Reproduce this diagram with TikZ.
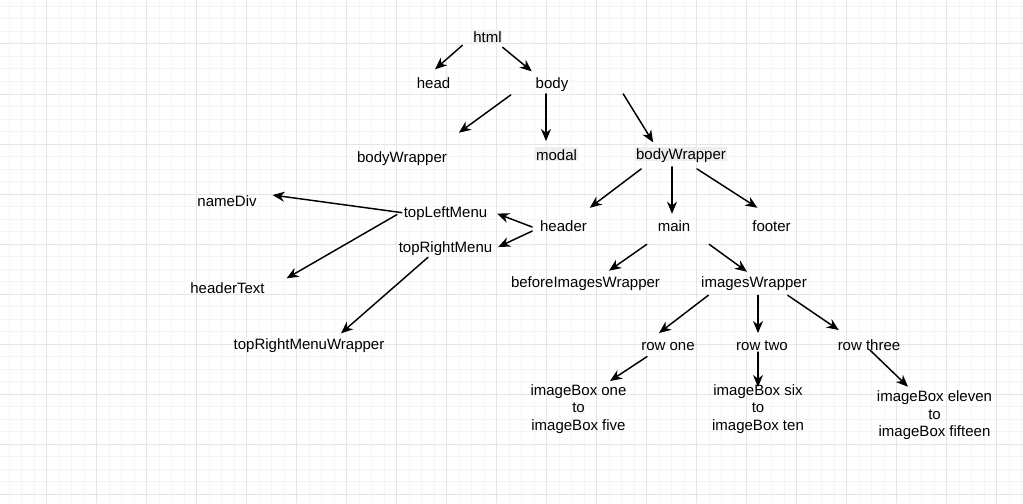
\documentclass[tikz,border=0pt]{standalone}
\usepackage{fontspec}
\setmainfont{Liberation Sans}
\usetikzlibrary{arrows.meta}
\definecolor{hlgray}{RGB}{238,238,238}
\definecolor{gridminor}{RGB}{245,245,245}
\definecolor{gridmajor}{RGB}{229,229,229}

\begin{document}
\begin{tikzpicture}[x=0.75pt,y=-0.75pt,>={Stealth[length=9pt,width=7.5pt,inset=2.8pt]},
  font=\fontsize{11.25}{13.125}\selectfont,line cap=round,
  lbl/.style={anchor=base,inner xsep=0.5pt,inner ysep=0pt,text height=0.95em,text depth=0.1em},
  hl/.style={lbl,fill=hlgray},
  multi/.style={align=center,inner sep=0pt},
  arr/.style={->,line width=1.1pt}]
\useasboundingbox (0,0) rectangle (1023,503);
\fill[white] (0,0) rectangle (1023,503);
% grid
\foreach \gx in {9,21.5,...,1021.5} \draw[gridminor,line width=0.75pt,line cap=butt] (\gx,0) -- (\gx,503);
\foreach \gy in {6.5,19,...,494} \draw[gridminor,line width=0.75pt,line cap=butt] (0,\gy) -- (1023,\gy);
\foreach \gx in {46.5,96.5,...,996.5} \draw[gridmajor,line width=0.75pt,line cap=butt] (\gx,0) -- (\gx,503);
\foreach \gy in {44,94,...,494} \draw[gridmajor,line width=0.75pt,line cap=butt] (0,\gy) -- (1023,\gy);

% nodes
\node[hl] (html) at (487.5,42.7) {html};
\node[lbl] (head) at (433.5,88.3) {head};
\node[lbl] (body) at (552,88.3) {body};
\node[lbl] (bodyWrapperL) at (402,162.7) {bodyWrapper};
\node[hl] (modal) at (556.5,160) {modal};
\node[hl] (bodyWrapperR) at (681,159.3) {bodyWrapper};
\node[lbl] (nameDiv) at (227,206.7) {nameDiv};
\node[lbl] (topLeftMenu) at (445.5,217.3) {topLeftMenu};
\node[lbl] (topRightMenu) at (445.5,252.7) {topRightMenu};
\node[lbl] (headerText) at (227.5,293.3) {headerText};
\node[lbl] (topRightMenuWrapper) at (309,349.3) {topRightMenuWrapper};
\node[lbl] (header) at (563.5,231.7) {header};
\node[lbl] (main) at (674,231.7) {main};
\node[lbl] (footer) at (771.5,231.7) {footer};
\node[lbl] (beforeImagesWrapper) at (585.5,287.7) {beforeImagesWrapper};
\node[lbl] (imagesWrapper) at (754,287.7) {imagesWrapper};
\node[lbl] (rowOne) at (668,350) {row one};
\node[lbl] (rowTwo) at (762,350) {row two};
\node[lbl] (rowThree) at (869,350) {row three};
\node[multi] (boxOne) at (578.5,408.75) {imageBox one\\to\\imageBox five};
\node[multi] (boxSix) at (758,408.75) {imageBox six\\to\\imageBox ten};
\node[multi] (boxEleven) at (934.5,415.5) {imageBox eleven\\to\\imageBox fifteen};

% arrows
\draw[arr] ([shift={(-10,1)}]html.south west) -- ([shift={(1.5,-6)}]head.north);
\draw[arr] ([shift={(0,3)}]html.south east) -- ([shift={(-3,-4)}]body.north west);
\draw[arr] ([shift={(-24,5)}]body.south west) -- ([shift={(11,-17)}]bodyWrapperL.north east);
\draw[arr] ([shift={(-6,4)}]body.south) -- ([shift={(-10.5,-6)}]modal.north);
\draw[arr] ([shift={(54,4)}]body.south east) -- ([shift={(18,-4)}]bodyWrapperR.north west);
\draw[arr] ([shift={(6,8)}]bodyWrapperR.south west) -- ([shift={(2,-11)}]header.north east);
\draw[arr] ([shift={(-9,6)}]bodyWrapperR.south) -- ([shift={(-2,-5)}]main.north);
\draw[arr] ([shift={(16,8)}]bodyWrapperR.south) -- ([shift={(6,-11)}]footer.north west);
\draw[arr] ([shift={(-7,1)}]header.west) -- ([shift={(9,2)}]topLeftMenu.east);
\draw[arr] ([shift={(-7,5)}]header.west) -- ([shift={(5,0)}]topRightMenu.east);
\draw[arr] ([shift={(-1,1)}]topLeftMenu.west) -- ([shift={(15,-6)}]nameDiv.east);
\draw[arr] ([shift={(-6,3)}]topLeftMenu.west) -- ([shift={(21,-2)}]headerText.north east);
\draw[arr] ([shift={(-17.5,3)}]topRightMenu.south) -- ([shift={(32,-3)}]topRightMenuWrapper.north);
\draw[arr] ([shift={(-10,11)}]main.south west) -- ([shift={(23.5,-4)}]beforeImagesWrapper.north);
\draw[arr] ([shift={(18,11)}]main.south east) -- ([shift={(-7,-3)}]imagesWrapper.north);
\draw[arr] ([shift={(8,6)}]imagesWrapper.south west) -- ([shift={(-9,-4)}]rowOne.north);
\draw[arr] ([shift={(4,6)}]imagesWrapper.south) -- ([shift={(-4,-4)}]rowTwo.north);
\draw[arr] ([shift={(-20,6)}]imagesWrapper.south east) -- ([shift={(2,-7)}]rowThree.north west);
\draw[arr] ([shift={(-21,5)}]rowOne.south) -- ([shift={(31.5,-3)}]boxOne.north);
\draw[arr] ([shift={(-4,0.5)}]rowTwo.south) -- ([shift={(0,3)}]boxSix.north);
\draw[arr] ([shift={(1,-1.5)}]rowThree.south) -- ([shift={(-26.5,-4)}]boxEleven.north);
\end{tikzpicture}
\end{document}
